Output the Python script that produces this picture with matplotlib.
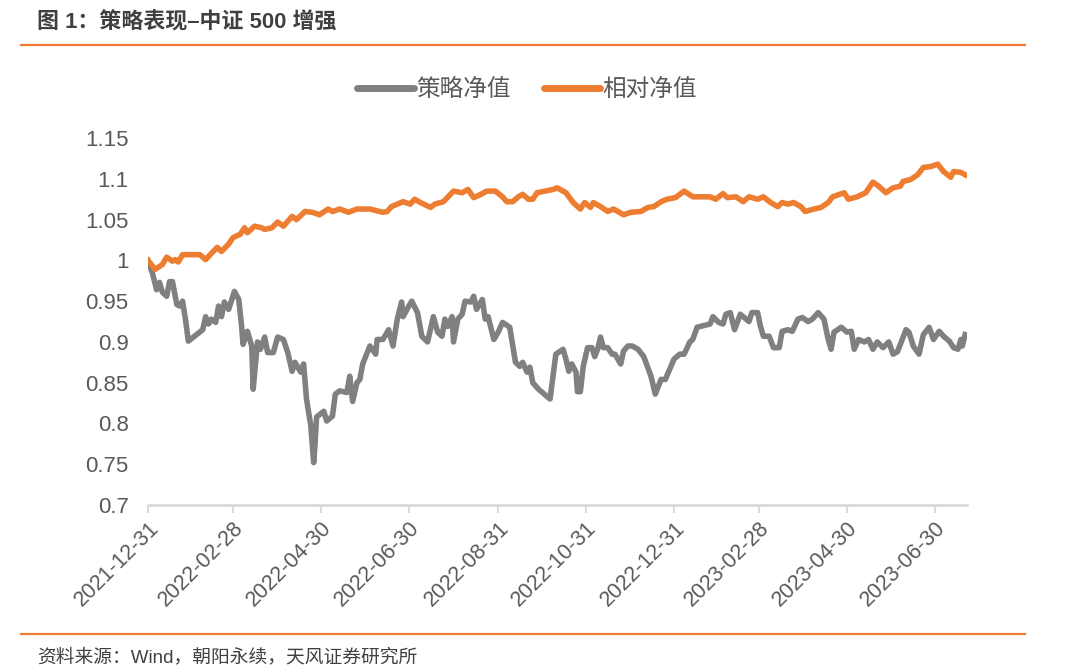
import pandas as pd
import matplotlib.pyplot as plt
from matplotlib.lines import Line2D

plt.rcParams['font.family'] = ['Liberation Sans', 'Noto Sans CJK SC']

base_date = "2021-12-31"

# 策略净值: days after base date, net value
strat_days = [0, 1, 3, 6, 8, 10, 13, 15, 17, 20, 22, 24, 26, 28, 38, 40, 42, 44, 47, 49,
              51, 53, 56, 60, 63, 65, 66, 69, 72, 73, 76, 78, 81, 83, 87, 90, 94, 97, 100, 102,
              106, 108, 110, 113, 115, 116, 117, 122, 124, 128, 130, 133, 138, 140, 142, 145, 147, 149, 154, 158,
              159, 163, 167, 170, 173, 176, 177, 181, 183, 187, 190, 194, 198, 201, 204, 206, 208, 211, 212, 215,
              218, 220, 224, 226, 228, 232, 234, 236, 240, 243, 246, 251, 255, 258, 260, 263, 265, 267, 271, 279,
              281, 283, 288, 290, 292, 294, 297, 298, 300, 302, 305, 308, 310, 312, 314, 316, 319, 322, 324, 328,
              330, 333, 336, 340, 344, 349, 352, 356, 359, 365, 369, 372, 376, 378, 381, 390, 392, 396, 399, 401,
              404, 407, 411, 415, 417, 419, 423, 425, 427, 431, 434, 438, 440, 444, 447, 451, 454, 458, 461, 465,
              469, 472, 474, 476, 481, 485, 488, 490, 493, 497, 500, 503, 506, 510, 514, 517, 520, 522, 526, 528,
              531, 535, 538, 542, 545, 549, 552, 556, 559, 562, 564, 565, 567]
strat_nav = [1.000, 0.994, 0.985, 0.964, 0.973, 0.961, 0.956, 0.974, 0.974, 0.946, 0.944, 0.950, 0.928, 0.901, 0.915, 0.931, 0.922, 0.928, 0.924, 0.944,
             0.931, 0.949, 0.940, 0.962, 0.952, 0.919, 0.897, 0.913, 0.895, 0.842, 0.900, 0.891, 0.906, 0.887, 0.887, 0.906, 0.903, 0.887, 0.864, 0.875,
             0.863, 0.873, 0.830, 0.797, 0.752, 0.777, 0.808, 0.815, 0.803, 0.809, 0.836, 0.840, 0.838, 0.858, 0.827, 0.850, 0.854, 0.873, 0.895, 0.885,
             0.903, 0.903, 0.915, 0.895, 0.928, 0.949, 0.931, 0.944, 0.950, 0.936, 0.907, 0.900, 0.931, 0.912, 0.907, 0.928, 0.919, 0.931, 0.900, 0.928,
             0.934, 0.950, 0.949, 0.956, 0.940, 0.952, 0.928, 0.931, 0.903, 0.912, 0.924, 0.918, 0.875, 0.870, 0.875, 0.863, 0.869, 0.850, 0.842, 0.830,
             0.858, 0.885, 0.891, 0.879, 0.864, 0.873, 0.863, 0.839, 0.839, 0.870, 0.893, 0.893, 0.882, 0.891, 0.906, 0.893, 0.893, 0.885, 0.885, 0.873,
             0.889, 0.895, 0.895, 0.891, 0.882, 0.858, 0.836, 0.854, 0.854, 0.879, 0.885, 0.885, 0.900, 0.903, 0.918, 0.922, 0.931, 0.924, 0.922, 0.934,
             0.936, 0.915, 0.934, 0.928, 0.925, 0.936, 0.936, 0.919, 0.907, 0.907, 0.893, 0.893, 0.913, 0.915, 0.913, 0.928, 0.930, 0.925, 0.928, 0.936,
             0.928, 0.903, 0.891, 0.912, 0.918, 0.912, 0.913, 0.891, 0.903, 0.900, 0.903, 0.891, 0.900, 0.893, 0.900, 0.885, 0.888, 0.897, 0.915, 0.912,
             0.895, 0.885, 0.909, 0.918, 0.903, 0.913, 0.907, 0.901, 0.893, 0.891, 0.903, 0.895, 0.909]

# 相对净值
rel_days = [0, 5, 10, 13, 17, 19, 21, 24, 36, 40, 48, 51, 56, 59, 64, 67, 69, 74, 79, 81,
            86, 90, 94, 100, 103, 109, 114, 119, 125, 128, 133, 139, 145, 154, 163, 166, 169, 177, 182, 185,
            189, 196, 199, 205, 212, 218, 222, 226, 231, 235, 241, 246, 249, 253, 257, 260, 264, 267, 270, 281,
            284, 290, 295, 300, 303, 307, 309, 314, 319, 323, 330, 335, 342, 347, 351, 356, 360, 366, 372, 378,
            390, 394, 399, 402, 408, 413, 417, 423, 427, 432, 437, 440, 444, 448, 453, 456, 462, 467, 472, 475,
            483, 486, 492, 498, 503, 507, 512, 517, 522, 524, 529, 534, 538, 543, 548, 552, 557, 559, 564, 567]
rel_nav = [1.000, 0.989, 0.995, 1.004, 0.999, 1.001, 0.998, 1.007, 1.007, 1.001, 1.016, 1.011, 1.020, 1.028, 1.032, 1.040, 1.034, 1.042, 1.040, 1.038,
           1.040, 1.047, 1.042, 1.054, 1.050, 1.060, 1.059, 1.056, 1.063, 1.060, 1.063, 1.059, 1.063, 1.063, 1.059, 1.060, 1.066, 1.072, 1.069, 1.075,
           1.071, 1.065, 1.069, 1.072, 1.085, 1.083, 1.087, 1.077, 1.081, 1.085, 1.085, 1.078, 1.072, 1.072, 1.078, 1.081, 1.075, 1.075, 1.083, 1.087,
           1.089, 1.083, 1.071, 1.063, 1.071, 1.065, 1.071, 1.066, 1.060, 1.063, 1.056, 1.059, 1.060, 1.065, 1.066, 1.072, 1.075, 1.077, 1.085, 1.078,
           1.078, 1.075, 1.082, 1.077, 1.078, 1.072, 1.078, 1.075, 1.078, 1.071, 1.066, 1.071, 1.069, 1.071, 1.066, 1.060, 1.063, 1.065, 1.071, 1.078,
           1.083, 1.075, 1.078, 1.083, 1.096, 1.091, 1.083, 1.089, 1.091, 1.097, 1.099, 1.105, 1.114, 1.115, 1.118, 1.109, 1.102, 1.109, 1.108, 1.105]

tick_dates = ["2021-12-31", "2022-02-28", "2022-04-30", "2022-06-30", "2022-08-31",
              "2022-10-31", "2022-12-31", "2023-02-28", "2023-04-30", "2023-06-30"]
y_ticks = [0.7, 0.75, 0.8, 0.85, 0.9, 0.95, 1, 1.05, 1.1, 1.15]
y_labels = ["0.7", "0.75", "0.8", "0.85", "0.9", "0.95", "1", "1.05", "1.1", "1.15"]

gray = "#808080"
orange = "#ED7D31"
text_c = "#595959"

start = pd.Timestamp(base_date)
strat_x = start + pd.to_timedelta(strat_days, unit="D")
rel_x = start + pd.to_timedelta(rel_days, unit="D")

fig = plt.figure(figsize=(10.8, 6.72), dpi=100)
ax = fig.add_axes([0.137, 0.2485, 0.758, 0.546])

ax.plot(strat_x, strat_nav, color=gray, lw=4, solid_joinstyle="round")
ax.plot(rel_x, rel_nav, color=orange, lw=4, solid_joinstyle="round")

ax.set_ylim(0.7, 1.15)
ax.set_xlim(start, start + pd.Timedelta(days=568))
ax.set_yticks(y_ticks)
ax.set_yticklabels(y_labels)
ax.set_xticks(pd.to_datetime(tick_dates))
ax.set_xticklabels(tick_dates, rotation=45, ha="right", rotation_mode="anchor")

for s in ["top", "right", "left"]:
    ax.spines[s].set_visible(False)
ax.spines["bottom"].set_color("#d9d9d9")
ax.spines["bottom"].set_linewidth(2)
ax.tick_params(axis="y", length=0, labelsize=16, labelcolor=text_c, pad=14)
ax.tick_params(axis="x", length=6, width=1.5, color="#d9d9d9", labelsize=15.5,
               labelcolor=text_c, pad=3)

handles = [Line2D([], [], color=gray, lw=5, solid_capstyle="round"),
           Line2D([], [], color=orange, lw=5, solid_capstyle="round")]
fig.legend(handles, ["策略净值", "相对净值"], loc="center", bbox_to_anchor=(0.488, 0.866),
           ncol=2, frameon=False, fontsize=17, handlelength=2.4, handletextpad=0.1,
           columnspacing=1.4, labelcolor=text_c)

# header / footer
fig.text(0.034, 0.966, "图 1：策略表现–中证 500 增强", fontsize=15.8, fontweight="bold",
         color="#404040", va="center")
fig.add_artist(Line2D([0.019, 0.949], [0.933, 0.933], color=orange, lw=1.6))
fig.add_artist(Line2D([0.019, 0.949], [0.057, 0.057], color=orange, lw=1.6))
fig.text(0.034, 0.022, "资料来源：Wind，朝阳永续，天风证券研究所", fontsize=13.5,
         color="#404040", va="center")

fig.savefig("out.png", dpi=100)
